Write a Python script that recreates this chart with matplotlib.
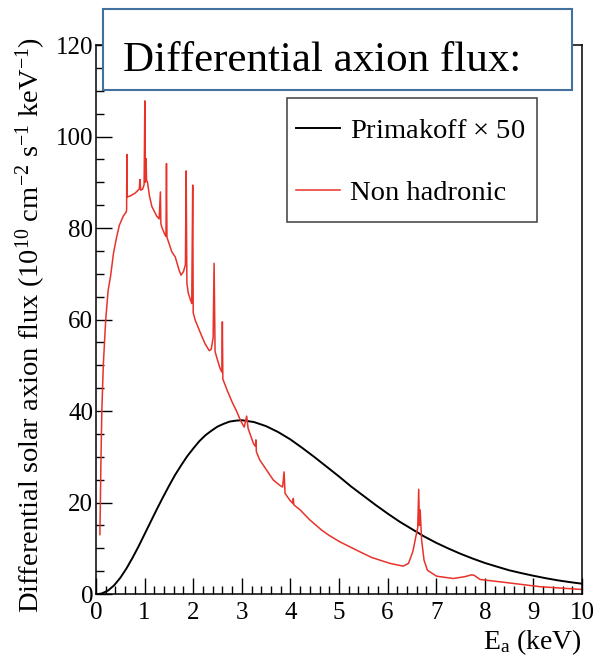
import matplotlib
matplotlib.use("Agg")
import matplotlib.pyplot as plt
from matplotlib.patches import Rectangle
from matplotlib.ticker import MultipleLocator

plt.rcParams['font.family'] = ['Liberation Serif', 'DejaVu Serif']
plt.rcParams['mathtext.fontset'] = 'custom'
plt.rcParams['mathtext.rm'] = 'Liberation Serif'
plt.rcParams['mathtext.it'] = 'Liberation Serif:italic'

# Primakoff x 50
prim_E = [0, 0.05, 0.1, 0.125, 0.25, 0.375, 0.5, 0.625, 0.75, 0.875, 1.0,
          1.125, 1.25, 1.375, 1.5, 1.625, 1.75, 1.875, 2.0, 2.125, 2.25,
          2.375, 2.5, 2.625, 2.75, 2.875, 3.0, 3.25, 3.5, 3.75, 4.0, 4.25,
          4.5, 4.75, 5.0, 5.25, 5.5, 5.75, 6.0, 6.25, 6.5, 6.75, 7.0, 7.25,
          7.5, 7.75, 8.0, 8.25, 8.5, 8.75, 9.0, 9.25, 9.5, 9.75, 10.0]
prim_flux = [0, 0.02, 0.09, 0.155, 0.78, 1.93, 3.55, 5.56, 7.89, 10.4, 13.1,
             15.8, 18.5, 21.1, 23.6, 26.0, 28.1, 30.1, 31.8, 33.4, 34.7,
             35.7, 36.6, 37.2, 37.7, 37.9, 38.0, 37.6, 36.7, 35.4, 33.8, 31.9,
             29.9, 27.8, 25.7, 23.5, 21.5, 19.5, 17.6, 15.8, 14.2, 12.6, 11.2,
             9.96, 8.8, 7.76, 6.8, 5.99, 5.2, 4.58, 4.0, 3.47, 3.0, 2.61, 2.26]

# Non hadronic (with line spikes)
nh_E = [0.08, 0.09, 0.10, 0.12, 0.15, 0.20, 0.25, 0.30, 0.36, 0.42, 0.48, 0.56,
        0.62, 0.63, 0.635, 0.64, 0.70, 0.80, 0.87, 0.89, 0.905, 0.92, 0.96,
        0.99, 1.005, 1.015, 1.03, 1.04, 1.06, 1.10, 1.15, 1.25, 1.30, 1.325,
        1.335, 1.35, 1.42, 1.44, 1.45, 1.46, 1.56, 1.63, 1.71, 1.75, 1.80,
        1.84, 1.855, 1.87, 1.90, 1.97, 1.99, 2.00, 2.04, 2.14, 2.24, 2.33,
        2.37, 2.41, 2.43, 2.45, 2.48, 2.55, 2.59, 2.60, 2.61, 2.70, 2.80,
        2.90, 2.98, 3.05, 3.10, 3.13, 3.24, 3.28, 3.29, 3.30, 3.37, 3.51,
        3.65, 3.79, 3.84, 3.87, 3.89, 3.99, 4.05, 4.06, 4.07, 4.20, 4.40,
        4.64, 4.80, 5.02, 5.36, 5.67, 6.05, 6.32, 6.43, 6.52, 6.58, 6.62,
        6.64, 6.655, 6.67, 6.70, 6.75, 6.82, 7.01, 7.35, 7.59, 7.73, 7.78,
        7.90, 7.97, 8.45, 9.14, 10.0]
nh_flux = [13.0, 20, 28, 40, 50, 60, 66.4, 69.5, 74.5, 77.8, 80.6, 82.6,
           83.5, 84, 96.1, 86.8, 87.0, 87.6, 88.3, 88.5, 90.6, 88.3, 88.5,
           89.5, 107.8, 90, 95.2, 90.5, 90, 87, 84.7, 82.6, 82.0, 87.9,
           81, 80.3, 78.5, 78.2, 94.1, 78, 74.8, 73.7, 70.8, 69.7, 70.5,
           72, 92.5, 68, 65.7, 63.5, 89.4, 61.5, 59.9, 57.3, 54.8, 53.2,
           53.5, 56, 72.3, 53, 51.9, 49.4, 48.5, 59.5, 47, 44.5, 42,
           39.8, 37.8, 36.5, 38.9, 36.2, 32.9, 32.3, 33.7, 31.1, 29.3, 27.1,
           24.9, 23.7, 23.4, 26.7, 22, 20.5, 19.8, 20.9, 19.5, 18.4, 16.2,
           14.0, 12.8, 11.4, 9.6, 8.0, 6.7, 6.1, 6.7, 9.3, 12.5, 14.5,
           22.9, 15, 18.4, 11.8, 7.4, 5.2, 3.9, 3.4, 3.8, 4.2, 4.1,
           3.2, 3.1, 2.5, 1.6, 1.0]

fig = plt.figure(figsize=(6, 6.63), dpi=100)
ax = fig.add_axes([0.16, 0.104, 0.81, 0.828])

ax.plot(prim_E, prim_flux, color='black', lw=1.4, label=r'Primakoff $\times$ 50')
ax.plot(nh_E, nh_flux, color='#e8322a', lw=1.1, label='Non hadronic')

ax.set_xlim(0, 10)
ax.set_ylim(0, 120)
ax.xaxis.set_major_locator(MultipleLocator(1))
ax.xaxis.set_minor_locator(MultipleLocator(0.2))
ax.yaxis.set_major_locator(MultipleLocator(20))
ax.yaxis.set_minor_locator(MultipleLocator(5))
ax.tick_params(which='both', direction='in', labelsize=18, width=1)
ax.tick_params(which='major', length=11.5)
ax.tick_params(which='minor', length=5.5)
ax.tick_params(axis='y', pad=2)
ax.tick_params(axis='x', pad=6)
for s in ax.spines.values():
    s.set_linewidth(1.1)

# legend: entries placed by matplotlib, frame drawn as a box
ax.add_patch(Rectangle((0.393, 0.678), 0.514, 0.225, transform=ax.transAxes,
                       fill=False, edgecolor='0.3', lw=1.2, zorder=4))
ax.legend(loc='center left', bbox_to_anchor=(0.4115, 0.787), fontsize=20.5,
          frameon=False, handlelength=1.55, handletextpad=0.35,
          labelspacing=1.25, borderpad=0, borderaxespad=0)

ax.set_xlabel(r'E$_\mathregular{a}$ (keV)', fontsize=20, loc='right', labelpad=2)
fig.text(0.052, 0.945,
         r'Differential solar axion flux (10$^{10}$ cm$^{-2}$ s$^{-1}$ keV$^{-1}$)',
         rotation=90, ha='center', va='top', fontsize=20.5)

# title box
fig.add_artist(Rectangle((0.1725, 0.864), 0.7805, 0.123, transform=fig.transFigure,
                         facecolor='white', edgecolor='#41719c', lw=1.5, zorder=5))
fig.text(0.537, 0.893, 'Differential axion flux:', fontsize=31,
         ha='center', va='baseline', zorder=6)

fig.savefig('out.png', dpi=100)
